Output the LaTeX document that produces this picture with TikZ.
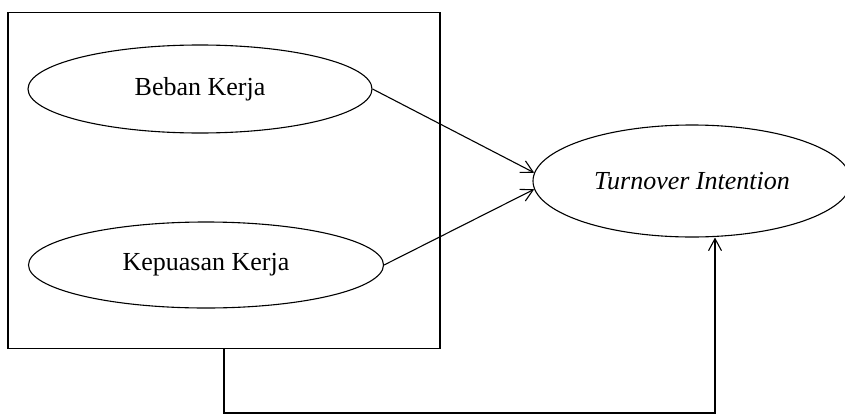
\documentclass[tikz,border=0pt]{standalone}
\usepackage{fontspec}
\setmainfont{Liberation Serif}
\usetikzlibrary{shapes.geometric,arrows.meta}
\begin{document}
\begin{tikzpicture}[x=1pt,y=-1pt,
  every node/.style={font=\fontsize{26}{30}\selectfont},
  oval/.style={draw,ellipse,line width=1.1pt,inner sep=0pt},
  frame/.style={draw,rectangle,line width=1.3pt,inner sep=0pt},
  arr/.style={line width=1.1pt,-{Straight Barb[length=12pt,width=13pt,line width=1.1pt]}},
  conn/.style={line width=1.1pt}]
\clip (0,0) rectangle (845,415);
\node[frame,minimum width=432pt,minimum height=336pt] (box) at (224,180.5) {};
\node[oval,minimum width=344pt,minimum height=88pt] (beban) at (200,89) {Beban Kerja};
\node[oval,minimum width=355pt,minimum height=86pt] (kep) at (206,265) {Kepuasan Kerja};
\node[oval,minimum width=318pt,minimum height=112pt] (to) at (692,181) {\textit{Turnover Intention}};
\coordinate (corner) at (715,413);
\draw[arr] (beban.east) -- (to.177);
\draw[arr] (kep.east) -- (to.183);
\draw[arr] (box.south) |- (corner) -- (corner |- to.south);
\end{tikzpicture}
\end{document}
